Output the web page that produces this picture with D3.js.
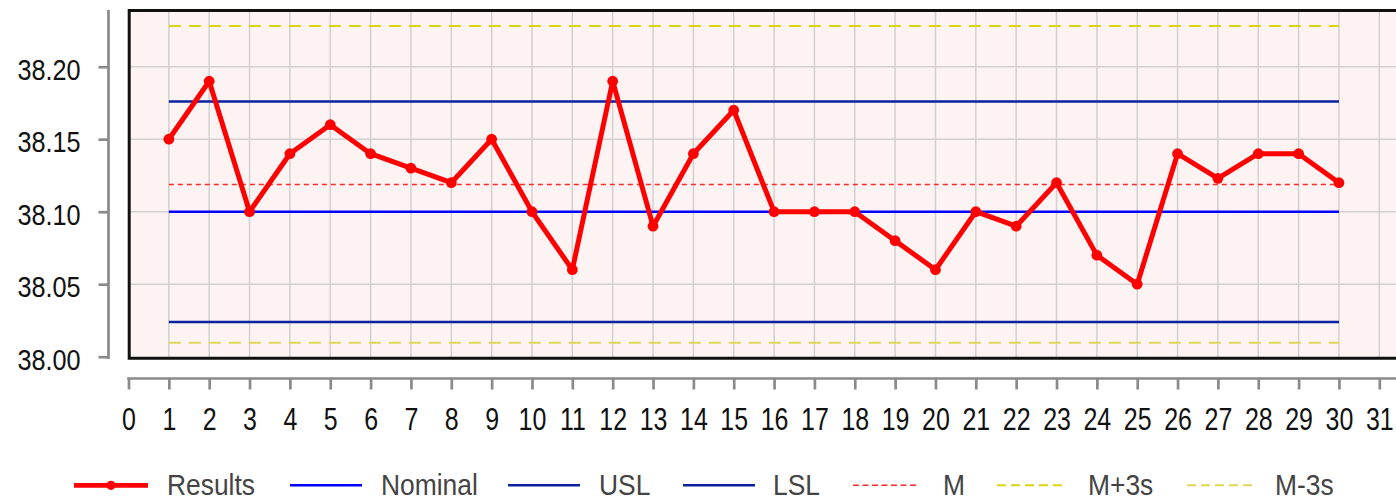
<!DOCTYPE html>
<html>
<head>
<meta charset="utf-8">
<script src="https://cdn.jsdelivr.net/npm/d3@7"></script>
<style>
  body { margin: 0; background: #fff; }
  svg { display: block; }
</style>
</head>
<body>
<div class="chart"></div>
<script>
// sample numbers and measured results
var sampleNo = [1, 2, 3, 4, 5, 6, 7, 8, 9, 10, 11, 12, 13, 14, 15,
                16, 17, 18, 19, 20, 21, 22, 23, 24, 25, 26, 27, 28, 29, 30];
var results = [38.15, 38.19, 38.10, 38.14, 38.16, 38.14, 38.13, 38.12, 38.15, 38.10,
               38.06, 38.19, 38.09, 38.14, 38.17, 38.10, 38.10, 38.10, 38.08, 38.06,
               38.10, 38.09, 38.12, 38.07, 38.05, 38.14, 38.123, 38.14, 38.14, 38.12];

// reference lines (nominal, spec limits, mean and +-3s)
var refNames = ["Nominal", "USL", "LSL", "M", "M+3s", "M-3s"];
var refValues = [38.10, 38.176, 38.024, 38.1188, 38.228, 38.0096];

// axis ticks
var xTickValues = [0, 1, 2, 3, 4, 5, 6, 7, 8, 9, 10, 11, 12, 13, 14, 15, 16,
                   17, 18, 19, 20, 21, 22, 23, 24, 25, 26, 27, 28, 29, 30, 31];
var yTickValues = [38.00, 38.05, 38.10, 38.15, 38.20];

var legendLabels = ["Results", "Nominal", "USL", "LSL", "M", "M+3s", "M-3s"];

var svgWidth = 1396;
var svgHeight = 500;

var font = "'Liberation Sans', Arial, sans-serif";

var svg = d3.select(".chart")
  .append("svg")
  .attr("width", svgWidth)
  .attr("height", svgHeight);

// scales
var xScale = d3.scaleLinear()
  .domain([0, 31])
  .range([128.5, 1379.3]);

var yScale = d3.scaleLinear()
  .domain([38.0, 38.2])
  .range([356.7, 66.7]);

// line styles for each reference line
var refStyle = {
  "Nominal": { color: "#0000ff", width: 2.5, dash: null },
  "USL":     { color: "#0a22a0", width: 2.5, dash: null },
  "LSL":     { color: "#0a22a0", width: 2.5, dash: null },
  "M":       { color: "#ff2a2a", width: 1.5, dash: "5,4" },
  "M+3s":    { color: "#dcd410", width: 2, dash: "12,8" },
  "M-3s":    { color: "#ddd75a", width: 2, dash: "12,8" }
};

// plot background
var plotTop = 10.5;
var plotBottom = 358.2;
var plotLeft = 129.2;

svg.append("rect")
  .attr("x", plotLeft)
  .attr("y", plotTop)
  .attr("width", svgWidth + 20 - plotLeft)
  .attr("height", plotBottom - plotTop)
  .attr("fill", "#fdf3f3");

// grid lines
var gridGroup = svg.append("g");

gridGroup.selectAll(".vgrid")
  .data(xTickValues.filter(d => d > 0))
  .enter()
  .append("line")
  .attr("x1", d => xScale(d))
  .attr("x2", d => xScale(d))
  .attr("y1", plotTop)
  .attr("y2", plotBottom)
  .attr("stroke", "#d2d0d0")
  .attr("stroke-width", 1.5);

gridGroup.selectAll(".hgrid")
  .data(yTickValues.filter(d => d > 38.0))
  .enter()
  .append("line")
  .attr("x1", plotLeft)
  .attr("x2", svgWidth + 20)
  .attr("y1", d => yScale(d))
  .attr("y2", d => yScale(d))
  .attr("stroke", "#d2d0d0")
  .attr("stroke-width", 1.5);

// reference lines from first to last sample
svg.append("g")
  .selectAll("line")
  .data(refNames)
  .enter()
  .append("line")
  .attr("x1", xScale(sampleNo[0]))
  .attr("x2", xScale(sampleNo[sampleNo.length - 1]))
  .attr("y1", (d, i) => yScale(refValues[i]))
  .attr("y2", (d, i) => yScale(refValues[i]))
  .attr("stroke", d => refStyle[d].color)
  .attr("stroke-width", d => refStyle[d].width)
  .attr("stroke-dasharray", d => refStyle[d].dash);

// results line + markers
var points = sampleNo.map((s, i) => [s, results[i]]);

var line = d3.line()
  .x(d => xScale(d[0]))
  .y(d => yScale(d[1]));

svg.append("path")
  .datum(points)
  .attr("d", line)
  .attr("fill", "none")
  .attr("stroke", "#ff0000")
  .attr("stroke-width", 5)
  .attr("stroke-linejoin", "round");

svg.append("g")
  .selectAll("circle")
  .data(points)
  .enter()
  .append("circle")
  .attr("cx", d => xScale(d[0]))
  .attr("cy", d => yScale(d[1]))
  .attr("r", 5.4)
  .attr("fill", "#ff0000");

// plot border
svg.append("path")
  .attr("d", `M${svgWidth + 20},${plotTop} H${plotLeft} V${plotBottom} H${svgWidth + 20}`)
  .attr("fill", "none")
  .attr("stroke", "#111")
  .attr("stroke-width", 3);

// y axis
var leftAxis = d3.axisLeft(yScale)
  .tickValues(yTickValues)
  .tickFormat(d3.format(".2f"))
  .tickSize(10)
  .tickSizeOuter(0);

var yAxis = svg.append("g")
  .attr("transform", "translate(108.5, 0)")
  .call(leftAxis);

var ySx = 0.87; // condensed look of the labels

yAxis.select(".domain").remove();
yAxis.append("line")
  .attr("x1", 0).attr("x2", 0)
  .attr("y1", 10).attr("y2", 359)
  .attr("stroke", "#8a8a8a")
  .attr("stroke-width", 2.7);
yAxis.selectAll(".tick line")
  .attr("stroke", "#8a8a8a")
  .attr("stroke-width", 2.7);
yAxis.selectAll(".tick text")
  .attr("dy", 0)
  .attr("x", -28 / ySx)
  .attr("y", 12.5)
  .attr("transform", `scale(${ySx},1)`)
  .attr("fill", "#111")
  .style("font-family", font)
  .style("font-size", "29px");

// x axis
var bottomAxis = d3.axisBottom(xScale)
  .tickValues(xTickValues)
  .tickFormat(d3.format("d"))
  .tickSize(11)
  .tickSizeOuter(0);

var xAxis = svg.append("g")
  .attr("transform", "translate(0, 378.5)")
  .call(bottomAxis);

var xSx = 0.78;

xAxis.select(".domain").remove();
xAxis.append("line")
  .attr("x1", xScale(0) - 1.3).attr("x2", svgWidth + 20)
  .attr("y1", 0).attr("y2", 0)
  .attr("stroke", "#8a8a8a")
  .attr("stroke-width", 2.7);
xAxis.selectAll(".tick line")
  .attr("stroke", "#8a8a8a")
  .attr("stroke-width", 2.7);
xAxis.selectAll(".tick text")
  .attr("dy", 0)
  .attr("y", 52)
  .attr("transform", `scale(${xSx},1)`)
  .attr("fill", "#111")
  .style("font-family", font)
  .style("font-size", "32px");

// legend
var legendLineX = [74, 290, 508, 683, 853, 997, 1187];
var legendLineLen = [74, 72, 72, 72, 65, 70, 70];
var legendTextX = [167, 381, 599, 773, 943, 1088, 1275];
var legendY = 485.3;

var legend = svg.append("g");

legendLabels.forEach(function(label, i) {
  var st = i === 0 ? { color: "#ff0000", width: 4.7, dash: null } : refStyle[label];
  legend.append("line")
    .attr("x1", legendLineX[i])
    .attr("x2", legendLineX[i] + legendLineLen[i])
    .attr("y1", legendY)
    .attr("y2", legendY)
    .attr("stroke", st.color)
    .attr("stroke-width", st.width)
    .attr("stroke-dasharray", i === 4 ? "6,3.5" : (st.dash ? "9,5" : null));
  if (i === 0) {
    legend.append("circle")
      .attr("cx", legendLineX[i] + legendLineLen[i] / 2)
      .attr("cy", legendY)
      .attr("r", 4.6)
      .attr("fill", "#ff0000");
  }
  legend.append("g")
    .attr("transform", `translate(${legendTextX[i]}, 495)`)
    .append("text")
    .attr("transform", "scale(0.88,1)")
    .attr("fill", "#444")
    .style("font-family", font)
    .style("font-size", "30px")
    .text(label);
});
</script>
</body>
</html>
